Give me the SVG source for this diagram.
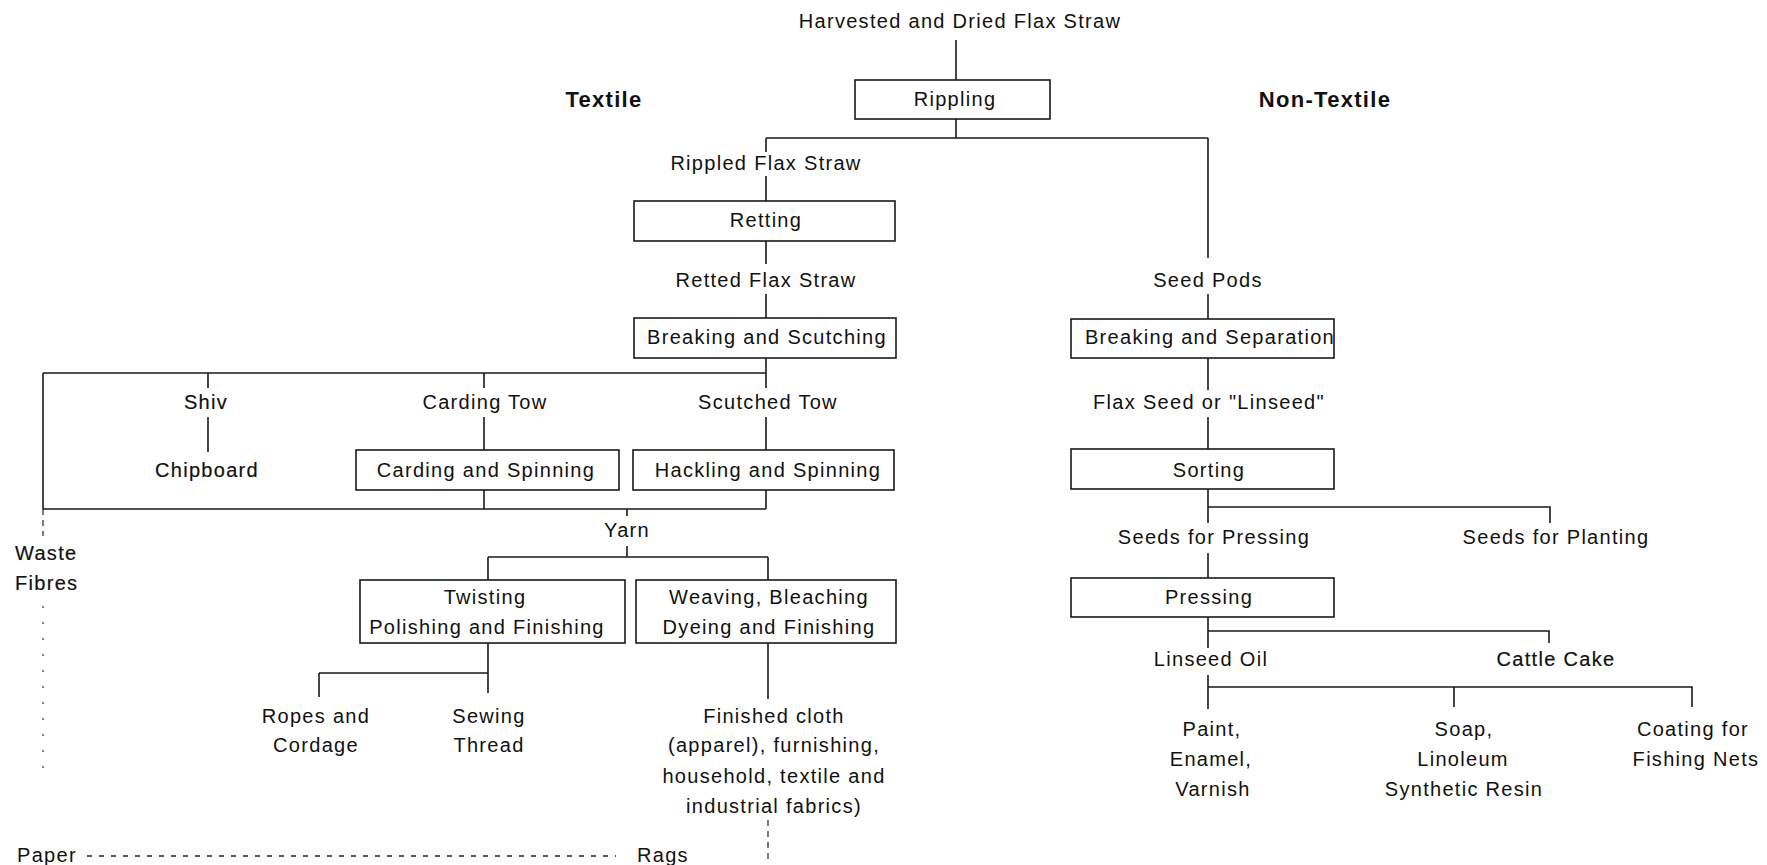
<svg xmlns="http://www.w3.org/2000/svg" width="1767" height="865" viewBox="0 0 1767 865">
<style>
  text { font-family: "Liberation Sans", Arial, sans-serif; font-size: 20px; letter-spacing: 1.3px; fill: #111; text-anchor: middle; }
  .hdr { font-size: 22px; font-weight: bold; }
  .heavy { stroke: #111; stroke-width: 0.2px; }
  .start { text-anchor: start; }
  .box { fill: none; stroke: #1a1a1a; stroke-width: 1.6; }
  .ln { fill: none; stroke: #1a1a1a; stroke-width: 1.6; }
  .dash { fill: none; stroke: #333; stroke-width: 1.3; stroke-dasharray: 6 5; }
  .dots { fill: none; stroke: #444; stroke-width: 1.3; stroke-dasharray: 2 14; }
  .pdots { fill: none; stroke: #222; stroke-width: 1.5; stroke-dasharray: 5 7; }
</style>
<rect width="1767" height="865" fill="#fff"/>

<g id="connectors">
  <path class="ln" d="M956 40 V80"/>
  <path class="ln" d="M956 119 V138 M766 138 H1208 M766 138 V152 M1208 138 V258"/>
  <path class="ln" d="M766 176 V201 M766 241 V264 M766 294 V318"/>
  <path class="ln" d="M1208 294 V319"/>
  <path class="ln" d="M766 358 V388 M43 373 H766 M208 373 V388 M484 373 V388"/>
  <path class="ln" d="M43 373 V509"/>
  <path class="dash" d="M43 509 V536"/>
  <path class="dots" d="M43 606 V770"/>
  <path class="ln" d="M208 417 V452 M484 417 V450 M766 417 V450"/>
  <path class="ln" d="M1208 358 V390 M1208 417 V449"/>
  <path class="ln" d="M484 490 V509 M766 490 V509 M43 509 H766 M627 509 V516"/>
  <path class="ln" d="M627 546 V557 M488 557 H768 M488 557 V580 M768 557 V580"/>
  <path class="ln" d="M488 643 V693 M319 673 H488 M319 673 V697"/>
  <path class="ln" d="M768 643 V699"/>
  <path class="dash" d="M768 820 V862"/>
  <path class="pdots" d="M87 856 H616"/>
  <path class="ln" d="M1208 489 V523 M1208 507 H1550 V523"/>
  <path class="ln" d="M1208 553 V578"/>
  <path class="ln" d="M1208 617 V648 M1208 631 H1549 V643"/>
  <path class="ln" d="M1208 675 V709 M1208 687 H1692 V707 M1454 687 V707"/>
</g>

<g id="title"><text x="960" y="28">Harvested and Dried Flax Straw</text></g>
<g id="textile-label"><text class="hdr" x="604" y="107">Textile</text></g>
<g id="nontextile-label"><text class="hdr" x="1325" y="107">Non-Textile</text></g>

<g id="rippling"><rect class="box" x="855" y="80" width="195" height="39"/><text x="955" y="106">Rippling</text></g>
<g id="rippled-straw"><text x="766" y="170">Rippled Flax Straw</text></g>
<g id="retting"><rect class="box" x="634" y="201" width="261" height="40"/><text x="766" y="227">Retting</text></g>
<g id="retted-straw"><text x="766" y="287">Retted Flax Straw</text></g>
<g id="seed-pods"><text x="1208" y="287">Seed Pods</text></g>
<g id="breaking-scutching"><rect class="box" x="634" y="318" width="262" height="40"/><text x="767" y="344">Breaking and Scutching</text></g>
<g id="breaking-separation"><rect class="box" x="1071" y="319" width="263" height="39"/><text x="1210" y="344">Breaking and Separation</text></g>

<g id="shiv"><text class="heavy" x="206" y="409">Shiv</text></g>
<g id="carding-tow"><text x="485" y="409">Carding Tow</text></g>
<g id="scutched-tow"><text x="768" y="409">Scutched Tow</text></g>
<g id="flax-seed"><text x="1209" y="409">Flax Seed or "Linseed"</text></g>

<g id="chipboard"><text class="heavy" x="207" y="477">Chipboard</text></g>
<g id="carding-spinning"><rect class="box" x="356" y="450" width="263" height="40"/><text x="486" y="477">Carding and Spinning</text></g>
<g id="hackling-spinning"><rect class="box" x="633" y="450" width="261" height="40"/><text x="768" y="477">Hackling and Spinning</text></g>
<g id="sorting"><rect class="box" x="1071" y="449" width="263" height="40"/><text x="1209" y="477">Sorting</text></g>

<g id="yarn"><text x="627" y="537">Yarn</text></g>
<g id="waste-fibres"><text class="start heavy" x="15" y="560">Waste</text><text class="start heavy" x="15" y="590">Fibres</text></g>
<g id="seeds-pressing"><text x="1214" y="544">Seeds for Pressing</text></g>
<g id="seeds-planting"><text x="1556" y="544">Seeds for Planting</text></g>

<g id="twisting"><rect class="box" x="360" y="580" width="265" height="63"/><text x="485" y="604">Twisting</text><text x="487" y="634">Polishing and Finishing</text></g>
<g id="weaving"><rect class="box" x="636" y="580" width="260" height="63"/><text x="769" y="604">Weaving, Bleaching</text><text x="769" y="634">Dyeing and Finishing</text></g>
<g id="pressing"><rect class="box" x="1071" y="578" width="263" height="39"/><text x="1209" y="604">Pressing</text></g>

<g id="linseed-oil"><text x="1211" y="666">Linseed Oil</text></g>
<g id="cattle-cake"><text class="heavy" x="1556" y="666">Cattle Cake</text></g>

<g id="ropes"><text x="316" y="723">Ropes and</text><text x="316" y="752">Cordage</text></g>
<g id="sewing"><text x="489" y="723">Sewing</text><text x="489" y="752">Thread</text></g>
<g id="finished-cloth"><text x="774" y="723">Finished cloth</text><text x="774" y="752">(apparel), furnishing,</text><text x="774" y="783">household, textile and</text><text x="774" y="813">industrial fabrics)</text></g>

<g id="paint"><text x="1212" y="736">Paint,</text><text x="1211" y="766">Enamel,</text><text x="1213" y="796">Varnish</text></g>
<g id="soap"><text x="1464" y="736">Soap,</text><text x="1463" y="766">Linoleum</text><text x="1464" y="796">Synthetic Resin</text></g>
<g id="coating"><text x="1693" y="736">Coating for</text><text x="1696" y="766">Fishing Nets</text></g>

<g id="paper"><text class="start" x="17" y="862">Paper</text></g>
<g id="rags"><text class="start" x="637" y="862">Rags</text></g>
</svg>
